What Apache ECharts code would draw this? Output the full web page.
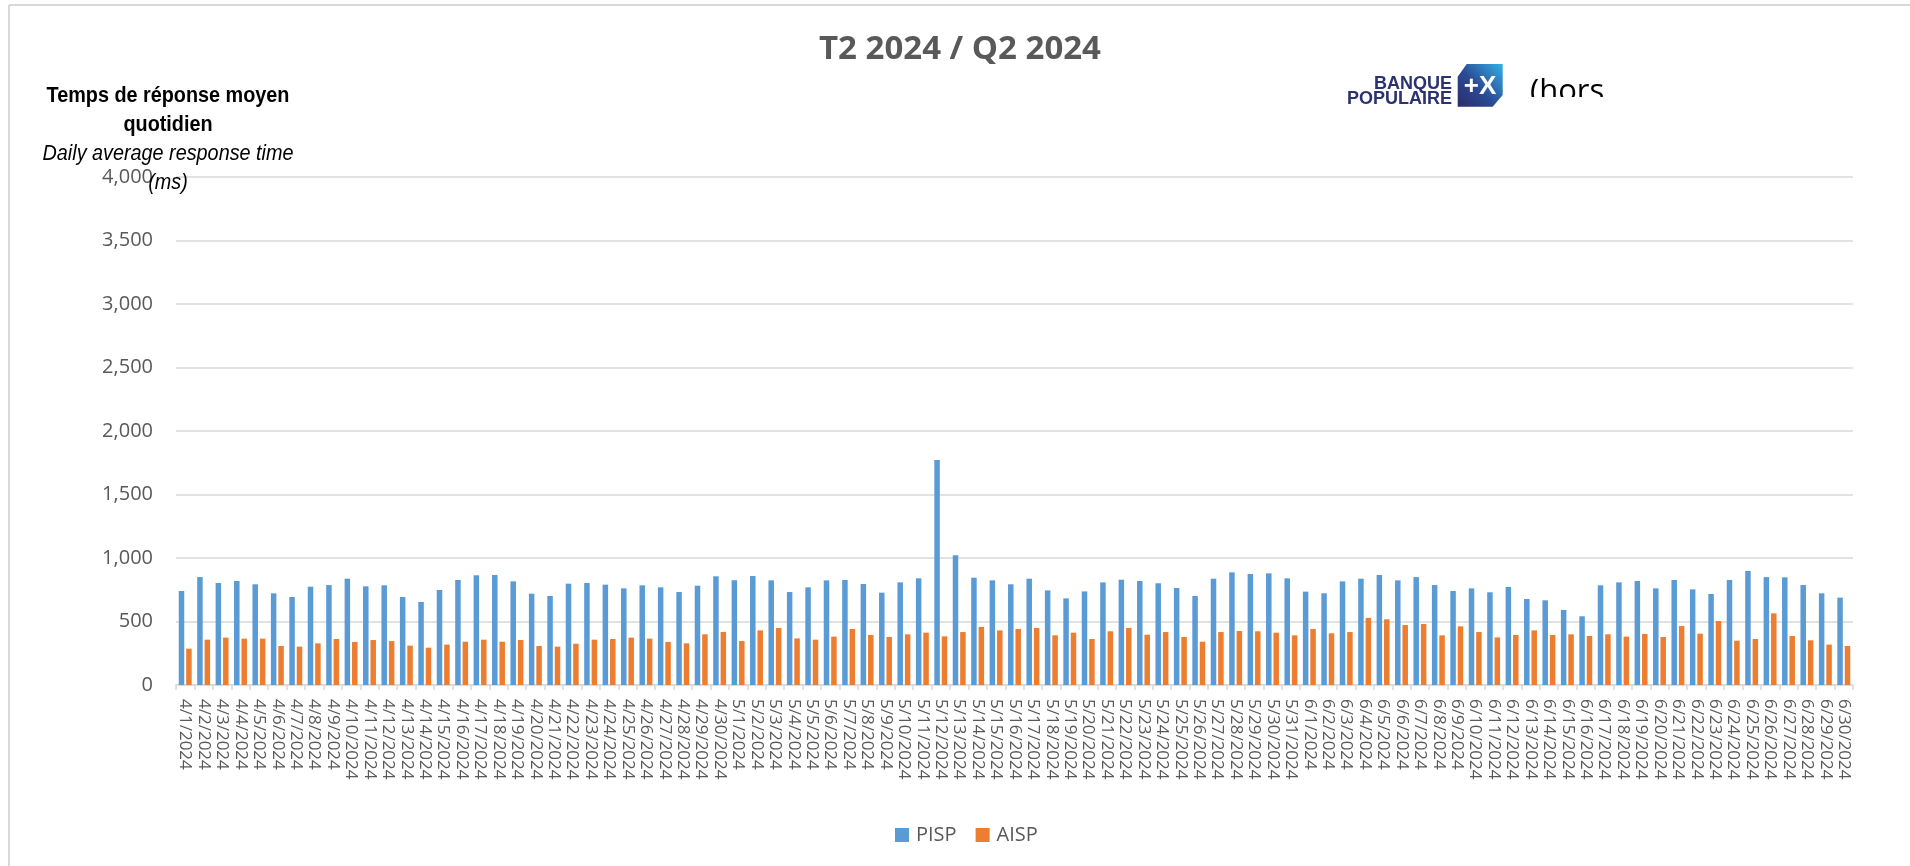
<!DOCTYPE html>
<html>
<head>
<meta charset="utf-8">
<script src="https://cdn.jsdelivr.net/npm/echarts@6/dist/echarts.min.js"></script>
<style>html,body{margin:0;padding:0;background:#fff;}#c{width:1910px;height:866px;}</style>
</head>
<body>
<div id="c"></div>
<script>
const categories = [
'4/1/2024','4/2/2024','4/3/2024','4/4/2024','4/5/2024','4/6/2024','4/7/2024','4/8/2024','4/9/2024','4/10/2024',
'4/11/2024','4/12/2024','4/13/2024','4/14/2024','4/15/2024','4/16/2024','4/17/2024','4/18/2024','4/19/2024','4/20/2024',
'4/21/2024','4/22/2024','4/23/2024','4/24/2024','4/25/2024','4/26/2024','4/27/2024','4/28/2024','4/29/2024','4/30/2024',
'5/1/2024','5/2/2024','5/3/2024','5/4/2024','5/5/2024','5/6/2024','5/7/2024','5/8/2024','5/9/2024','5/10/2024',
'5/11/2024','5/12/2024','5/13/2024','5/14/2024','5/15/2024','5/16/2024','5/17/2024','5/18/2024','5/19/2024','5/20/2024',
'5/21/2024','5/22/2024','5/23/2024','5/24/2024','5/25/2024','5/26/2024','5/27/2024','5/28/2024','5/29/2024','5/30/2024','5/31/2024',
'6/1/2024','6/2/2024','6/3/2024','6/4/2024','6/5/2024','6/6/2024','6/7/2024','6/8/2024','6/9/2024','6/10/2024',
'6/11/2024','6/12/2024','6/13/2024','6/14/2024','6/15/2024','6/16/2024','6/17/2024','6/18/2024','6/19/2024','6/20/2024',
'6/21/2024','6/22/2024','6/23/2024','6/24/2024','6/25/2024','6/26/2024','6/27/2024','6/28/2024','6/29/2024','6/30/2024'
];

const pispValues = [
740, 850, 803, 819, 793, 722, 693, 774, 787, 837, 777, 785, 693, 654, 748, 827, 864, 866, 816, 719,
701, 798, 803, 790, 761, 785, 769, 732, 782, 856,
825, 858, 824, 732, 769, 824, 827, 795, 727, 808, 840, 1772, 1021, 845, 824, 793, 837, 745, 682, 737,
808, 829, 819, 801, 764, 701, 837, 887, 874, 879, 840,
735, 722, 816, 837, 866, 824, 850, 787, 740, 761, 730, 772, 677, 667, 591, 541, 785, 808, 819, 761,
827, 753, 717, 827, 898, 850, 848, 787, 722, 688
];

const aispValues = [
286, 357, 373, 365, 365, 307, 302, 328, 362, 339, 354, 346, 310, 294, 318, 341, 357, 341, 354, 307,
302, 325, 357, 362, 373, 365, 339, 328, 399, 418,
346, 430, 449, 367, 357, 381, 441, 394, 378, 399, 412, 383, 417, 457, 430, 441, 449, 391, 412, 362,
423, 449, 396, 417, 378, 341, 417, 425, 423, 412, 391,
441, 407, 417, 528, 517, 472, 480, 391, 462, 417, 375, 394, 430, 394, 399, 386, 399, 381, 402, 378,
464, 404, 504, 349, 362, 564, 386, 352, 318, 307
];

const seriesNames = ['PISP', 'AISP'];
const chartTitle = 'T2 2024 / Q2 2024';
const yTitleLines = ['Temps de réponse moyen', 'quotidien', 'Daily average response time', '(ms)'];
const yMin = 0, yMax = 4000, yInterval = 500;

const GRAY = '#595959';
const chart = echarts.init(document.getElementById('c'), null, {renderer: 'canvas'});

const option = {
  backgroundColor: '#ffffff',
  animation: false,
  grid: {left: 176, right: 57, top: 177, bottom: 181, containLabel: false},
  legend: {
    data: seriesNames,
    left: 890, top: 820,
    icon: 'rect', itemWidth: 14, itemHeight: 14, itemGap: 19,
    textStyle: {fontFamily: 'Open Sans', fontSize: 20, color: GRAY, padding: [0, 0, 0, 2]}
  },
  xAxis: {
    type: 'category',
    data: categories,
    boundaryGap: true,
    axisLine: {show: true, lineStyle: {color: '#d9d9d9', width: 1.5}},
    axisTick: {show: true, length: 5, lineStyle: {color: '#d9d9d9', width: 1.5}},
    axisLabel: {interval: 0, rotate: -90, margin: 14, fontFamily: 'Open Sans', fontSize: 17, color: GRAY}
  },
  yAxis: {
    type: 'value',
    min: yMin, max: yMax, interval: yInterval,
    axisLine: {show: false},
    axisTick: {show: false},
    splitLine: {lineStyle: {color: '#d9d9d9', width: 1.5}},
    axisLabel: {
      margin: 23, fontFamily: 'Open Sans', fontSize: 20, color: GRAY,
      formatter: v => v.toLocaleString('en-US')
    }
  },
  series: [
    {name: seriesNames[0], type: 'bar', data: pispValues, barWidth: 5.5, barGap: '35%',
     itemStyle: {color: '#5B9BD5'}},
    {name: seriesNames[1], type: 'bar', data: aispValues, barWidth: 5.5, barGap: '35%',
     itemStyle: {color: '#ED7D31'}}
  ],
  graphic: [
    {type: 'line', shape: {x1: 9, y1: 5, x2: 9, y2: 866}, style: {stroke: '#d9d9d9', lineWidth: 2}, silent: true},
    {type: 'line', shape: {x1: 9, y1: 5, x2: 1910, y2: 5}, style: {stroke: '#d9d9d9', lineWidth: 2}, silent: true},
    {type: 'text', x: 960, y: 50, style: {text: chartTitle, font: 'bold 33px "Open Sans"', fill: GRAY, textAlign: 'center', textVerticalAlign: 'middle'}},
    {type: 'text', x: 168, y: 96, scaleX: 0.9, style: {text: yTitleLines[0], font: 'bold 22px "Liberation Sans"', fill: '#000', textAlign: 'center', textVerticalAlign: 'middle'}},
    {type: 'text', x: 168, y: 125, scaleX: 0.9, style: {text: yTitleLines[1], font: 'bold 22px "Liberation Sans"', fill: '#000', textAlign: 'center', textVerticalAlign: 'middle'}},
    {type: 'text', x: 168, y: 154, scaleX: 0.9, style: {text: yTitleLines[2], font: 'italic 22px "Liberation Sans"', fill: '#000', textAlign: 'center', textVerticalAlign: 'middle'}},
    {type: 'text', x: 168, y: 183, scaleX: 0.9, z: 10, style: {text: yTitleLines[3], font: 'italic 22px "Liberation Sans"', fill: '#000', textAlign: 'center', textVerticalAlign: 'middle'}},
    // logo
    {type: 'text', x: 1452, y: 84, style: {text: 'BANQUE', font: 'bold 18px "Liberation Sans"', fill: '#2b3270', textAlign: 'right', textVerticalAlign: 'middle'}},
    {type: 'text', x: 1452, y: 99, style: {text: 'POPULAIRE', font: 'bold 18px "Liberation Sans"', fill: '#2b3270', textAlign: 'right', textVerticalAlign: 'middle'}},
    {type: 'polygon', shape: {points: [[1466.7, 64], [1502.7, 64], [1502.7, 95], [1492.7, 106.7], [1457.7, 106.7], [1457.7, 76.7]]},
     style: {fill: new echarts.graphic.LinearGradient(1, 0, 0, 1, [{offset: 0, color: '#33b0e6'}, {offset: 0.55, color: '#2b4a94'}, {offset: 1, color: '#2b2c6a'}])}},
    {type: 'text', x: 1480, y: 87, style: {text: '+X', font: 'bold 26px "Liberation Sans"', fill: '#ffffff', textAlign: 'center', textVerticalAlign: 'middle'}},
    {type: 'text', x: 1530, y: 92, z: 5, style: {text: '(hors', font: '31px "Open Sans"', fill: '#000', textAlign: 'left', textVerticalAlign: 'middle'}},
    {type: 'rect', z: 6, shape: {x: 1524, y: 97, width: 100, height: 20}, style: {fill: '#ffffff'}, silent: true}
  ]
};
chart.setOption(option);
</script>
</body>
</html>
